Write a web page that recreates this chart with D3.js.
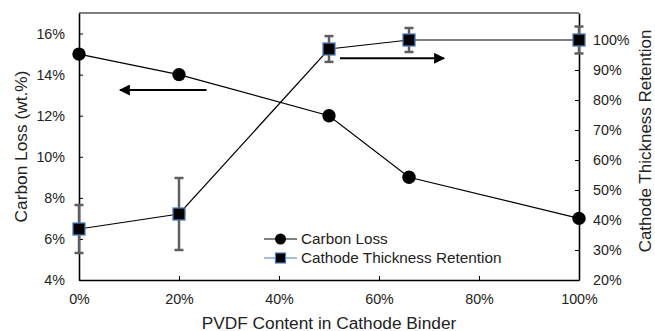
<!DOCTYPE html>
<html>
<head>
<meta charset="utf-8">
<script src="https://cdn.jsdelivr.net/npm/d3@7"></script>
<style>
  body { margin: 0; background: #fff; }
  text { font-family: "Liberation Sans", Arial, sans-serif; fill: #222; }
</style>
</head>
<body>
<svg id="chart" width="655" height="331"></svg>
<script>
// data
const pvdf = [0, 20, 50, 66, 100];
const carbonLoss = [15, 14, 12, 9, 7];
const retention = [37, 42, 97, 100, 100];
const retentionErr = [8, 12, 4.3, 4, 4.5];
const xTicks = [0, 20, 40, 60, 80, 100];
const leftTicks = [4, 6, 8, 10, 12, 14, 16];
const rightTicks = [20, 30, 40, 50, 60, 70, 80, 90, 100];
const seriesNames = ["Carbon Loss", "Cathode Thickness Retention"];

const W = 655, H = 331;
const margin = { top: 13, right: 76, bottom: 51, left: 79 };

const svg = d3.select("#chart");

const x = d3.scaleLinear().domain([0, 100]).range([margin.left, W - margin.right]);
const yL = d3.scaleLinear().domain([4, 17]).range([H - margin.bottom, margin.top]);
const yR = d3.scaleLinear().domain([20, 109]).range([H - margin.bottom, margin.top]);

const pct = d => d + "%";

// frame top line
svg.append("line")
	.attr("x1", x(0)).attr("x2", x(100))
	.attr("y1", margin.top).attr("y2", margin.top)
	.attr("stroke", "#000").attr("stroke-width", 1);

// axes
const xAxis = svg.append("g")
	.attr("transform", `translate(0,${H - margin.bottom})`)
	.call(d3.axisBottom(x).tickValues(xTicks).tickFormat(pct).tickSizeInner(-4).tickSizeOuter(0).tickPadding(14));

const leftAxis = svg.append("g")
	.attr("transform", `translate(${margin.left},0)`)
	.call(d3.axisLeft(yL).tickValues(leftTicks).tickFormat(pct).tickSizeInner(-4).tickSizeOuter(0).tickPadding(14));

const rightAxis = svg.append("g")
	.attr("transform", `translate(${W - margin.right},0)`)
	.call(d3.axisRight(yR).tickValues(rightTicks).tickFormat(pct).tickSizeInner(-4).tickSizeOuter(0).tickPadding(14));

[xAxis, leftAxis, rightAxis].forEach(g => {
	g.select(".domain").attr("stroke", "#000").attr("stroke-width", 1.6);
	g.selectAll(".tick line").attr("stroke", "#000").attr("stroke-width", 1);
	g.selectAll(".tick text").attr("font-size", 14.3).attr("fill", "#222")
		.attr("font-family", "'Liberation Sans', Arial, sans-serif");
});
// hide x tick marks at the ends
xAxis.selectAll(".tick line").filter(d => d === 0 || d === 100).remove();

// axis titles
svg.append("text")
	.attr("transform", `translate(22,${(margin.top + H - margin.bottom) / 2}) rotate(-90)`)
	.attr("text-anchor", "middle").attr("dominant-baseline", "middle")
	.attr("font-size", 17.3).text("Carbon Loss (wt.%)");

svg.append("text")
	.attr("transform", `translate(651,141) rotate(-90)`)
	.attr("text-anchor", "middle")
	.attr("font-size", 17).text("Cathode Thickness Retention");

svg.append("text")
	.attr("x", (x(0) + x(100)) / 2).attr("y", 328.5)
	.attr("text-anchor", "middle")
	.attr("font-size", 17.3).text("PVDF Content in Cathode Binder");

// lines
const lineL = d3.line().x((d, i) => x(pvdf[i])).y(d => yL(d));
const lineR = d3.line().x((d, i) => x(pvdf[i])).y(d => yR(d));

svg.append("path").datum(retention).attr("d", lineR)
	.attr("fill", "none").attr("stroke", "#000").attr("stroke-width", 1.2);
svg.append("path").datum(carbonLoss).attr("d", lineL)
	.attr("fill", "none").attr("stroke", "#000").attr("stroke-width", 1.2);

// error bars
const errColor = "#5f5f5f";
const eb = svg.append("g");
retention.forEach((v, i) => {
	const cx = x(pvdf[i]);
	const y1 = yR(v - retentionErr[i]), y2 = yR(v + retentionErr[i]);
	eb.append("line").attr("x1", cx).attr("x2", cx).attr("y1", y1).attr("y2", y2)
		.attr("stroke", errColor).attr("stroke-width", 2.5);
	[y1, y2].forEach(yy => eb.append("line")
		.attr("x1", cx - 4.5).attr("x2", cx + 4.5).attr("y1", yy).attr("y2", yy)
		.attr("stroke", errColor).attr("stroke-width", 2.5));
});

// markers
svg.append("g").selectAll("circle").data(carbonLoss).join("circle")
	.attr("cx", (d, i) => x(pvdf[i])).attr("cy", d => yL(d))
	.attr("r", 6.7).attr("fill", "#000");

svg.append("g").selectAll("rect").data(retention).join("rect")
	.attr("x", (d, i) => x(pvdf[i]) - 6).attr("y", d => yR(d) - 6)
	.attr("width", 12).attr("height", 12)
	.attr("fill", "#000").attr("stroke", "#4a7ebb").attr("stroke-width", 1.3);

// arrows (placed in data units)
const defs = svg.append("defs");
defs.append("marker").attr("id", "head")
	.attr("viewBox", "0 0 10 10").attr("refX", 9).attr("refY", 5)
	.attr("markerWidth", 6).attr("markerHeight", 5.5).attr("markerUnits", "strokeWidth")
	.attr("orient", "auto")
	.append("path").attr("d", "M0,0 L10,5 L0,10 z").attr("fill", "#000");

svg.append("line")
	.attr("x1", x(25.5)).attr("x2", x(8.2))
	.attr("y1", yL(13.25)).attr("y2", yL(13.25))
	.attr("stroke", "#000").attr("stroke-width", 2).attr("marker-end", "url(#head)");

svg.append("line")
	.attr("x1", x(52.2)).attr("x2", x(73))
	.attr("y1", yR(93.9)).attr("y2", yR(93.9))
	.attr("stroke", "#000").attr("stroke-width", 2).attr("marker-end", "url(#head)");

// legend
const lg = svg.append("g").attr("transform", "translate(264,239)");
const rowH = 19;
seriesNames.forEach((name, i) => {
	const g = lg.append("g").attr("transform", `translate(0,${i * rowH})`);
	g.append("line").attr("x1", 0).attr("x2", 33).attr("y1", 0).attr("y2", 0)
		.attr("stroke", i === 0 ? "#000" : "#4a7ebb").attr("stroke-width", 1.2);
	if (i === 0) {
		g.append("circle").attr("cx", 16.5).attr("cy", 0).attr("r", 5.5).attr("fill", "#000");
	} else {
		g.append("rect").attr("x", 11.5).attr("y", -5).attr("width", 10).attr("height", 10)
			.attr("fill", "#000").attr("stroke", "#4a7ebb").attr("stroke-width", 1.2);
	}
	g.append("text").attr("x", 37).attr("y", 0.5).attr("dominant-baseline", "middle")
		.attr("font-size", 15.3).text(name);
});
</script>
</body>
</html>
